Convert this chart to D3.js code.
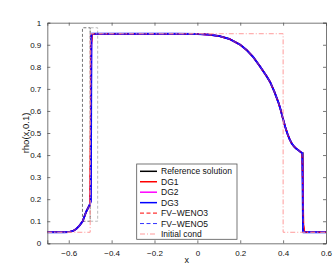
<!DOCTYPE html>
<html>
<head>
<meta charset="utf-8">
<script src="https://cdn.jsdelivr.net/npm/d3@7"></script>
<style>
  body { margin: 0; background: #fff; }
  svg { display: block; font-family: "Liberation Sans", Arial, sans-serif; }
</style>
</head>
<body>
<svg id="chart" width="335" height="267"></svg>
<script>
// axis ticks
var xTicks = [-0.6, -0.4, -0.2, 0, 0.2, 0.4, 0.6];
var yTicks = [0, 0.1, 0.2, 0.3, 0.4, 0.5, 0.6, 0.7, 0.8, 0.9, 1];

// shared parts of the solution (left foot, plateau + rarefaction, right tail)
var footX = [-0.7, -0.62, -0.6, -0.58, -0.565, -0.55, -0.535, -0.52, -0.51, -0.502];
var footY = [0.05, 0.05, 0.051, 0.056, 0.065, 0.08, 0.1, 0.14, 0.16, 0.175];
var bodyX = [-0.488, -0.3, -0.1, 0, 0.05, 0.1, 0.15, 0.2, 0.23, 0.26, 0.29, 0.32, 0.34, 0.36, 0.38, 0.39, 0.4, 0.41, 0.42, 0.43, 0.44, 0.45, 0.46, 0.47, 0.48, 0.487];
var bodyY = [0.95, 0.95, 0.95, 0.949, 0.946, 0.94, 0.926, 0.9, 0.876, 0.845, 0.805, 0.762, 0.73, 0.685, 0.633, 0.6, 0.562, 0.527, 0.497, 0.472, 0.453, 0.44, 0.43, 0.423, 0.415, 0.41];
var tailX = [0.5, 0.6];
var tailY = [0.05, 0.05];

// per series: jumps at the contact / shock
var refLeftX = [-0.498, -0.495], refLeftY = [0.19, 0.95];
var refRightX = [0.492, 0.494], refRightY = [0.41, 0.05];
var dg1LeftX = [-0.5, -0.495, -0.49], dg1LeftY = [0.2, 0.9, 0.95];
var dg1RightX = [0.49, 0.495, 0.5], dg1RightY = [0.4, 0.08, 0.05];
var dg2LeftX = [-0.498, -0.494], dg2LeftY = [0.19, 0.95];
var dg2RightX = [0.49, 0.494], dg2RightY = [0.41, 0.05];
var dg3LeftX = [-0.497, -0.494], dg3LeftY = [0.19, 0.95];
var dg3RightX = [0.489, 0.493], dg3RightY = [0.41, 0.05];
var w3LeftX = [-0.501, -0.496, -0.49], w3LeftY = [0.2, 0.88, 0.95];
var w3RightX = [0.488, 0.494, 0.5], w3RightY = [0.4, 0.1, 0.05];
var w5LeftX = [-0.499, -0.494], w5LeftY = [0.19, 0.95];
var w5RightX = [0.489, 0.494], w5RightY = [0.41, 0.05];

// initial condition
var initX = [-0.7, -0.5, -0.5, 0.4, 0.4, 0.6];
var initY = [0.05, 0.05, 0.95, 0.95, 0.05, 0.05];

// zoom boxes
var boxDarkX = [-0.536, -0.5], boxLightX = [-0.5, -0.465], boxY = [0.1, 0.977];

var legendNames = ["Reference solution", "DG1", "DG2", "DG3", "FV\u2212WENO3", "FV\u2212WENO5", "Initial cond"];

function joinPts() {
	var pts = [];
	for (var k = 0; k < arguments.length; k += 2) {
		var xs = arguments[k], ys = arguments[k + 1];
		xs.forEach(function(v, i){ pts.push([v, ys[i]]); });
	}
	return pts;
}
function solution(lx, ly, rx, ry) {
	return joinPts(footX, footY, lx, ly, bodyX, bodyY, rx, ry, tailX, tailY);
}

var series = [
	{name: legendNames[0], pts: solution(refLeftX, refLeftY, refRightX, refRightY), color: "#000", w: 1.5, dash: null},
	{name: legendNames[1], pts: solution(dg1LeftX, dg1LeftY, dg1RightX, dg1RightY), color: "#f00", w: 1.6, dash: null},
	{name: legendNames[2], pts: solution(dg2LeftX, dg2LeftY, dg2RightX, dg2RightY), color: "#f0f", w: 1.6, dash: null},
	{name: legendNames[3], pts: solution(dg3LeftX, dg3LeftY, dg3RightX, dg3RightY), color: "#00f", w: 1.9, dash: null},
	{name: legendNames[4], pts: solution(w3LeftX, w3LeftY, w3RightX, w3RightY), color: "#f00", w: 1, dash: "4,2.5"},
	{name: legendNames[5], pts: solution(w5LeftX, w5LeftY, w5RightX, w5RightY), color: "#33f", w: 1, dash: "4,2.5"},
	{name: legendNames[6], pts: joinPts(initX, initY), color: "#ff9a9a", w: 1, dash: "5,2,1,2"}
];

var svg = d3.select("#chart");
var mLeft = 47.3, mRight = 326, mTop = 22.7, mBottom = 243.3;

var x = d3.scaleLinear().domain([-0.7, 0.6]).range([mLeft, mRight]);
var y = d3.scaleLinear().domain([0, 1]).range([mBottom, mTop]);

svg.append("rect").attr("x", 0).attr("y", 0).attr("width", 335).attr("height", 267).attr("fill", "#fff");

// zoom boxes
function boxPath(xs) {
	return "M" + x(xs[0]) + "," + y(boxY[0]) + "H" + x(xs[1]) + "V" + y(boxY[1]) + "H" + x(xs[0]) + "Z";
}
svg.append("path").attr("d", boxPath(boxLightX)).attr("fill", "none")
	.attr("stroke", "#bbb").attr("stroke-width", 1).attr("stroke-dasharray", "3,2");
svg.append("path").attr("d", boxPath(boxDarkX)).attr("fill", "none")
	.attr("stroke", "#777").attr("stroke-width", 1).attr("stroke-dasharray", "3,2");

var line = d3.line().x(function(d){ return x(d[0]); }).y(function(d){ return y(d[1]); });

svg.selectAll("path.series")
	.data(series)
	.enter()
	.append("path")
	.attr("class", "series")
	.attr("d", function(d){ return line(d.pts); })
	.attr("fill", "none")
	.attr("stroke", function(d){ return d.color; })
	.attr("stroke-width", function(d){ return d.w; })
	.attr("stroke-dasharray", function(d){ return d.dash; })
	.attr("stroke-linejoin", "round");

// axes (MATLAB style box with inner ticks)
var axisColor = "#555";
var fmt = function(v){ return v === 0 ? "0" : String(+v.toFixed(1)).replace("-", "\u2212"); };

var gx = svg.append("g").attr("transform", "translate(0," + mBottom + ")")
	.call(d3.axisBottom(x).tickValues(xTicks).tickSize(-3).tickPadding(7).tickFormat(fmt));
var gx2 = svg.append("g").attr("transform", "translate(0," + mTop + ")")
	.call(d3.axisTop(x).tickValues(xTicks).tickSize(-3).tickFormat(""));
var gy = svg.append("g").attr("transform", "translate(" + mLeft + ",0)")
	.call(d3.axisLeft(y).tickValues(yTicks).tickSize(-3).tickPadding(6).tickFormat(fmt));
var gy2 = svg.append("g").attr("transform", "translate(" + mRight + ",0)")
	.call(d3.axisRight(y).tickValues(yTicks).tickSize(-3).tickFormat(""));

[gx, gx2, gy, gy2].forEach(function(g){
	g.selectAll(".domain").attr("stroke", axisColor).attr("stroke-width", 0.8);
	g.selectAll(".tick line").attr("stroke", axisColor).attr("stroke-width", 0.8);
	g.selectAll("text").attr("fill", "#111").style("font-size", "8px").style("font-family", "Liberation Sans, Arial, sans-serif");
});

// axis labels
svg.append("text").attr("x", 186.7).attr("y", 263).attr("text-anchor", "middle")
	.style("font-size", "9px").attr("fill", "#111").text("x");
svg.append("text").attr("transform", "translate(29," + y(0.5) + ") rotate(-90)")
	.attr("text-anchor", "middle").style("font-size", "9.5px").attr("fill", "#111").text("rho(x,0.1)");

// legend
var lg = svg.append("g");
lg.append("rect").attr("x", 136.7).attr("y", 164).attr("width", 100.3).attr("height", 75.3)
	.attr("fill", "#fff").attr("stroke", "#555").attr("stroke-width", 0.8);
var items = lg.selectAll("g.item").data(series).enter().append("g")
	.attr("class", "item")
	.attr("transform", function(d, i){ return "translate(0," + (171.3 + i * 10.45) + ")"; });
items.append("line").attr("x1", 140).attr("x2", 157).attr("y1", 0).attr("y2", 0)
	.attr("stroke", function(d){ return d.color; })
	.attr("stroke-width", function(d){ return d.dash ? 1 : 1.5; })
	.attr("stroke-dasharray", function(d){ return d.dash; });
items.append("text").attr("x", 161).attr("y", 3).style("font-size", "8.5px").attr("fill", "#111")
	.text(function(d){ return d.name; });
</script>
</body>
</html>
